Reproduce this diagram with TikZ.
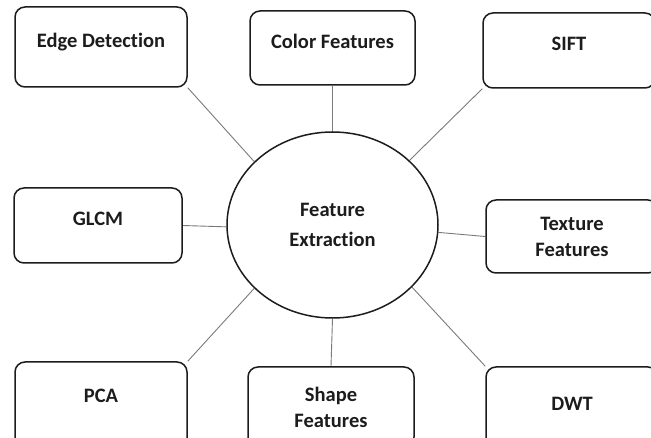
\documentclass[tikz,border=0pt]{standalone}
\usepackage{fontspec}
\setmainfont{Carlito}[Ligatures=NoCommon]
\usetikzlibrary{shapes.geometric,backgrounds}
\definecolor{ink}{HTML}{1C1C1C}
\definecolor{wire}{HTML}{7A7A7A}
\tikzset{
  featbox/.style={draw=ink, line width=1.5pt, rounded corners=10pt, fill=white,
    minimum width=172pt, minimum height=76pt, align=center, inner sep=0pt,
    text=ink, font=\fontsize{20.5}{26}\selectfont\bfseries},
  raised/.style={text depth=14pt},
  hub/.style={draw=ink, line width=1.5pt, ellipse, fill=white,
    minimum width=211pt, minimum height=186pt, inner sep=0pt, align=center,
    text=ink, font=\fontsize{20.5}{30}\selectfont\bfseries},
  spoke/.style={draw=wire, line width=0.9pt}
}
\begin{document}
\begin{tikzpicture}[x=1pt,y=-1pt]
  \useasboundingbox (0,0) rectangle (651,438);
  \clip (0,0) rectangle (651,438);

  % central hub
  \node[hub] (fe) at (332.5,225) {Feature\\Extraction};

  % top row
  \node[featbox, raised, minimum width=172pt, minimum height=80pt] (edge) at (101,47) {Edge Detection};
  \node[featbox, raised, minimum width=165pt, minimum height=74pt] (color) at (332.5,48) {Color Features};
  \node[featbox, raised, minimum height=75pt] (sift) at (569,50.5) {SIFT};

  % middle row
  \node[featbox, raised, minimum width=168pt, minimum height=75pt] (glcm) at (98,225.5) {GLCM};
  \node[featbox, minimum height=73pt] (tex) at (572,236.5) {Texture\\Features};

  % bottom row, running off the lower edge
  \node[featbox, raised, minimum height=86pt, text depth=18pt] (pca) at (101,405) {PCA};
  \node[featbox, minimum width=166pt, minimum height=80pt] (shape) at (331,407) {Shape\\Features};
  \node[featbox, raised, minimum height=84pt, text depth=10pt] (dwt) at (572,409) {DWT};

  % spokes from the hub to each box
  \begin{scope}[on background layer]
    \draw[spoke] (fe.141.6) -- (edge.south east);
    \draw[spoke] (fe.north) -- (color.south);
    \draw[spoke] (fe.40) -- (sift.south west);
    \draw[spoke] (fe.181.6) -- (glcm.east);
    \draw[spoke] (fe.-4.3) -- (tex.west);
    \draw[spoke] (fe.219.3) -- (pca.north east);
    \draw[spoke] (fe.south) -- (shape.north);
    \draw[spoke] (fe.-38) -- (dwt.north west);
  \end{scope}
\end{tikzpicture}
\end{document}
